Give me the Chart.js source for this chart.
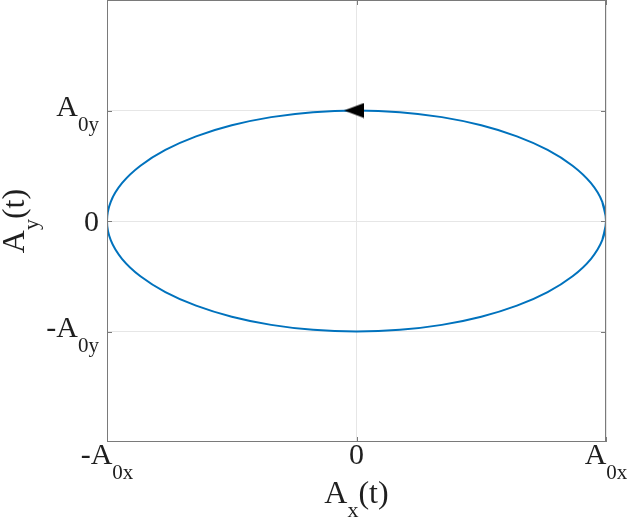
<!DOCTYPE html>
<html>
<head>
<meta charset="utf-8">
<script src="https://cdn.jsdelivr.net/npm/chart.js@4"></script>
<style>
  body { margin: 0; background: #fff; }
  #wrap { width: 629px; height: 519px; }
</style>
</head>
<body>
<div id="wrap"><canvas id="ellipseChart" width="629" height="519"></canvas></div>
<script>
// ellipse traced counter-clockwise, starting a little before 0 deg and
// running a little past 360 deg so the smoothed curve closes cleanly
const ellipseX = [0.985, 1, 0.985, 0.940, 0.866, 0.766, 0.643, 0.5, 0.342, 0.174, 0,
  -0.174, -0.342, -0.5, -0.643, -0.766, -0.866, -0.940, -0.985, -1,
  -0.985, -0.940, -0.866, -0.766, -0.643, -0.5, -0.342, -0.174, 0,
  0.174, 0.342, 0.5, 0.643, 0.766, 0.866, 0.940, 0.985, 1, 0.985];
const ellipseY = [-0.174, 0, 0.174, 0.342, 0.5, 0.643, 0.766, 0.866, 0.940, 0.985, 1,
  0.985, 0.940, 0.866, 0.766, 0.643, 0.5, 0.342, 0.174, 0,
  -0.174, -0.342, -0.5, -0.643, -0.766, -0.866, -0.940, -0.985, -1,
  -0.985, -0.940, -0.866, -0.766, -0.643, -0.5, -0.342, -0.174, 0, 0.174];

// direction arrow on top of the ellipse
const arrowX = [-0.01];
const arrowY = [1];

const xTickValues = [-1, 0, 1];
const xTickLabels = ['-A_{0x}', '0', 'A_{0x}'];
const yTickValues = [-1, 0, 1];
const yTickLabels = ['-A_{0y}', '0', 'A_{0y}'];
const xTitle = 'A_{x}(t)';
const yTitle = 'A_{y}(t)';

const FONT = '"Liberation Serif", "Times New Roman", serif';
const BOX = '#7a7a7a';

// left pointing arrow head used as point style
const arrowImg = document.createElement('canvas');
arrowImg.width = 20;
arrowImg.height = 16;
(function() {
    const c = arrowImg.getContext('2d');
    c.fillStyle = '#000';
    c.beginPath();
    c.moveTo(0, 8);
    c.lineTo(20, 0.5);
    c.lineTo(20, 15.5);
    c.closePath();
    c.fill();
})();

// split "A_{0x}" into normal / subscript pieces
function parseRich(s) {
    const parts = [];
    const re = /_\{([^}]*)\}/g;
    let last = 0, m;
    while ((m = re.exec(s)) !== null) {
        if (m.index > last) parts.push({ t: s.slice(last, m.index), sub: false });
        parts.push({ t: m[1], sub: true });
        last = re.lastIndex;
    }
    if (last < s.length) parts.push({ t: s.slice(last), sub: false });
    return parts;
}

function drawRich(ctx, s, x, y, align, size, subSize, subDrop) {
    const parts = parseRich(s);
    let total = 0;
    parts.forEach(p => {
        ctx.font = (p.sub ? subSize : size) + 'px ' + FONT;
        p.w = ctx.measureText(p.t).width;
        total += p.w;
    });
    let cx = align === 'right' ? x - total : align === 'center' ? x - total / 2 : x;
    ctx.textAlign = 'left';
    ctx.textBaseline = 'alphabetic';
    parts.forEach(p => {
        ctx.font = (p.sub ? subSize : size) + 'px ' + FONT;
        ctx.fillText(p.t, cx, p.sub ? y + subDrop : y);
        cx += p.w;
    });
}

const matlabAxes = {
    id: 'matlabAxes',
    afterDraw(chart) {
        const ctx = chart.ctx;
        const a = chart.chartArea;
        const xs = chart.scales.x, ys = chart.scales.y;
        ctx.save();
        ctx.strokeStyle = BOX;
        ctx.lineWidth = 1;
        ctx.strokeRect(Math.round(a.left) + 0.5, Math.round(a.top) + 0.5,
            Math.round(a.right - a.left) - 1, Math.round(a.bottom - a.top) - 1);
        // inward tick marks on all four sides
        ctx.beginPath();
        xTickValues.forEach(v => {
            const px = Math.round(xs.getPixelForValue(v)) + 0.5;
            ctx.moveTo(px, a.bottom); ctx.lineTo(px, a.bottom - 5);
            ctx.moveTo(px, a.top); ctx.lineTo(px, a.top + 5);
        });
        yTickValues.forEach(v => {
            const py = Math.round(ys.getPixelForValue(v)) + 0.5;
            ctx.moveTo(a.left, py); ctx.lineTo(a.left + 5, py);
            ctx.moveTo(a.right, py); ctx.lineTo(a.right - 5, py);
        });
        ctx.stroke();

        ctx.fillStyle = '#1f1f1f';
        xTickValues.forEach((v, i) => {
            drawRich(ctx, xTickLabels[i], xs.getPixelForValue(v), a.bottom + 22, 'center', 30, 21, 15);
        });
        yTickValues.forEach((v, i) => {
            const py = ys.getPixelForValue(v);
            const lbl = yTickLabels[i];
            const dy = lbl.indexOf('_') >= 0 ? 5 : 10;
            drawRich(ctx, lbl, a.left - 8, py + dy, 'right', 30, 21, 15);
        });

        drawRich(ctx, xTitle, (a.left + a.right) / 2, a.bottom + 61, 'center', 32, 22, 14);
        ctx.translate(24, (a.top + a.bottom) / 2);
        ctx.rotate(-Math.PI / 2);
        drawRich(ctx, yTitle, 0, 0, 'center', 32, 22, 14);
        ctx.restore();
    }
};

const ellipsePoints = ellipseX.map((x, i) => ({ x: x, y: ellipseY[i] }));
const arrowPoints = arrowX.map((x, i) => ({ x: x, y: arrowY[i] }));

const chart = new Chart(document.getElementById('ellipseChart').getContext('2d'), {
    type: 'scatter',
    data: {
        datasets: [{
            label: 'direction',
            data: arrowPoints,
            order: 0,
            pointStyle: arrowImg,
            pointRadius: 10,
            showLine: false
        }, {
            label: 'A(t)',
            data: ellipsePoints,
            order: 1,
            showLine: true,
            borderColor: '#0072bd',
            borderWidth: 2,
            tension: 0.4,
            pointRadius: 0,
            fill: false
        }]
    },
    options: {
        responsive: false,
        animation: false,
        layout: { autoPadding: false, padding: { left: 107, right: 23, top: 0, bottom: 77 } },
        plugins: { legend: { display: false }, tooltip: { enabled: false } },
        scales: {
            x: {
                min: -1, max: 1,
                afterBuildTicks: s => { s.ticks = xTickValues.map(v => ({ value: v })); },
                ticks: { display: false },
                grid: { color: '#e6e6e6', drawTicks: false },
                border: { display: false }
            },
            y: {
                min: -2, max: 2,
                afterBuildTicks: s => { s.ticks = yTickValues.map(v => ({ value: v })); },
                ticks: { display: false },
                grid: { color: '#e6e6e6', drawTicks: false },
                border: { display: false }
            }
        }
    },
    plugins: [matlabAxes]
});
</script>
</body>
</html>
